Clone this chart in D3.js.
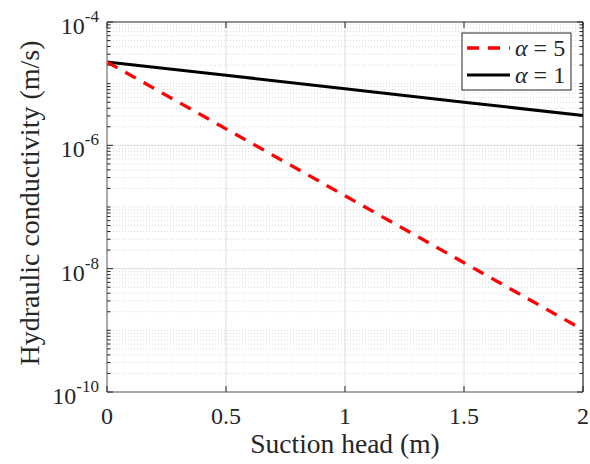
<!DOCTYPE html>
<html>
<head>
<meta charset="utf-8">
<script src="https://cdn.jsdelivr.net/npm/d3@7.9.0/dist/d3.min.js"></script>
<style>
  body { margin: 0; background: #fff; }
  svg text, svg tspan { font-family: "Liberation Serif", "Times New Roman", serif; fill: #262626; }
</style>
</head>
<body>
<svg id="chart" width="590" height="464"></svg>
<script>
// suction head (m)
const head = [0, 0.5, 1, 1.5, 2];
// hydraulic conductivity (m/s)
const kAlpha5 = [2.25e-5, 1.85e-6, 1.52e-7, 1.25e-8, 1.02e-9];
const kAlpha1 = [2.25e-5, 1.37e-5, 8.3e-6, 5.0e-6, 3.05e-6];
const xTicks = [0, 0.5, 1, 1.5, 2];
const yTickExp = [-4, -6, -8, -10];

const serif = '"Liberation Serif", "Times New Roman", serif';
const margin = { top: 22, right: 7, bottom: 72, left: 107 };
const width = 590 - margin.left - margin.right;
const height = 464 - margin.top - margin.bottom;

const svg = d3.select('#chart');
const g = svg.append('g').attr('transform', `translate(${margin.left},${margin.top})`);

const x = d3.scaleLinear().domain([0, 2]).range([0, width]);
const y = d3.scaleLog().domain([1e-10, 1e-4]).range([height, 0]);

// minor values 2..9 of each decade
let minor = [];
for (let e = -10; e < -4; e++) {
  for (let m = 2; m <= 9; m++) minor.push(m * Math.pow(10, e));
}
// odd decades also get minor style
let oddDecades = [1e-9, 1e-7, 1e-5];
let allMinor = minor.concat(oddDecades);

// minor dotted grid
g.append('g').selectAll('line').data(allMinor).join('line')
  .attr('x1', 0).attr('x2', width)
  .attr('y1', d => y(d)).attr('y2', d => y(d))
  .attr('stroke', '#d9d9d9').attr('stroke-width', 1)
  .attr('stroke-dasharray', '1,2');

// major grid
g.append('g').selectAll('line').data(xTicks.slice(1, -1)).join('line')
  .attr('x1', d => x(d)).attr('x2', d => x(d))
  .attr('y1', 0).attr('y2', height)
  .attr('stroke', '#e3e3e3').attr('stroke-width', 1.2);
g.append('g').selectAll('line').data([1e-6, 1e-8]).join('line')
  .attr('x1', 0).attr('x2', width)
  .attr('y1', d => y(d)).attr('y2', d => y(d))
  .attr('stroke', '#e3e3e3').attr('stroke-width', 1.2);

// lines
const line = d3.line().x((d, i) => x(head[i])).y(d => y(d));
g.append('path').datum(kAlpha1).attr('d', line)
  .attr('fill', 'none').attr('stroke', '#000').attr('stroke-width', 3);
g.append('path').datum(kAlpha5).attr('d', line)
  .attr('fill', 'none').attr('stroke', '#ff0000').attr('stroke-width', 3.3)
  .attr('stroke-dasharray', '12,9');

// axes box
g.append('line').attr('x1', 0).attr('x2', 0).attr('y1', 0).attr('y2', height)
  .attr('stroke', '#8c8c8c').attr('stroke-width', 1.5);
g.append('line').attr('x1', 0).attr('x2', width).attr('y1', height).attr('y2', height)
  .attr('stroke', '#8c8c8c').attr('stroke-width', 1.5);
g.append('line').attr('x1', 0).attr('x2', width).attr('y1', 0).attr('y2', 0)
  .attr('stroke', '#262626').attr('stroke-width', 1.2);
g.append('line').attr('x1', width).attr('x2', width).attr('y1', 0).attr('y2', height)
  .attr('stroke', '#262626').attr('stroke-width', 1.2);

// ticks
const yMajorVals = yTickExp.map(e => Math.pow(10, e));
const ticks = g.append('g').attr('stroke', '#262626').attr('stroke-width', 1);
ticks.selectAll('.ymaj').data(yMajorVals).join('line')
  .attr('x1', 0).attr('x2', 6).attr('y1', d => y(d)).attr('y2', d => y(d));
ticks.selectAll('.ymajr').data(yMajorVals).join('line')
  .attr('x1', width).attr('x2', width - 6).attr('y1', d => y(d)).attr('y2', d => y(d));
ticks.selectAll('.ymin').data(allMinor).join('line')
  .attr('x1', 0).attr('x2', 3.5).attr('y1', d => y(d)).attr('y2', d => y(d));
ticks.selectAll('.yminr').data(allMinor).join('line')
  .attr('x1', width).attr('x2', width - 3.5).attr('y1', d => y(d)).attr('y2', d => y(d));
ticks.selectAll('.xb').data(xTicks).join('line')
  .attr('x1', d => x(d)).attr('x2', d => x(d)).attr('y1', height).attr('y2', height - 6);
ticks.selectAll('.xt').data(xTicks).join('line')
  .attr('x1', d => x(d)).attr('x2', d => x(d)).attr('y1', 0).attr('y2', 6);

// x tick labels
g.append('g').selectAll('text').data(xTicks).join('text')
  .attr('x', d => x(d)).attr('y', height + 32)
  .attr('text-anchor', 'middle').attr('font-size', 24).attr('font-family', serif)
  .text(d => d3.format('~g')(d));

// y tick labels with superscript
const yl = g.append('g').selectAll('text').data(yTickExp).join('text')
  .attr('x', -8).attr('y', d => y(Math.pow(10, d)) + 12)
  .attr('text-anchor', 'end').attr('font-size', 24).attr('font-family', serif);
yl.append('tspan').text('10');
yl.append('tspan').attr('dy', -12).attr('font-size', 17).text(d => d);

// axis titles
g.append('text').attr('x', width / 2).attr('y', height + 61)
  .attr('text-anchor', 'middle').attr('font-size', 27.5).attr('font-family', serif)
  .text('Suction head (m)');
g.append('text').attr('transform', `translate(${-68},${height / 2 - 4}) rotate(-90)`)
  .attr('text-anchor', 'middle').attr('font-size', 28).attr('font-family', serif)
  .text('Hydraulic conductivity (m/s)');

// legend
const leg = g.append('g').attr('transform', `translate(${355},${11})`);
leg.append('rect').attr('width', 109).attr('height', 57)
  .attr('fill', '#fff').attr('stroke', '#262626').attr('stroke-width', 1);
const items = [
  { label: '5', color: '#ff0000', dash: '12,9', w: 3.3 },
  { label: '1', color: '#000', dash: null, w: 3 }
];
items.forEach((it, i) => {
  const yy = 15 + i * 27;
  leg.append('line').attr('x1', 5).attr('x2', 48).attr('y1', yy).attr('y2', yy)
    .attr('stroke', it.color).attr('stroke-width', it.w)
    .attr('stroke-dasharray', it.dash);
  const t = leg.append('text').attr('x', 53).attr('y', yy + 8)
    .attr('font-size', 24).attr('font-family', serif);
  t.append('tspan').attr('font-style', 'italic').text('α');
  t.append('tspan').text(' = ' + it.label);
});
</script>
</body>
</html>
